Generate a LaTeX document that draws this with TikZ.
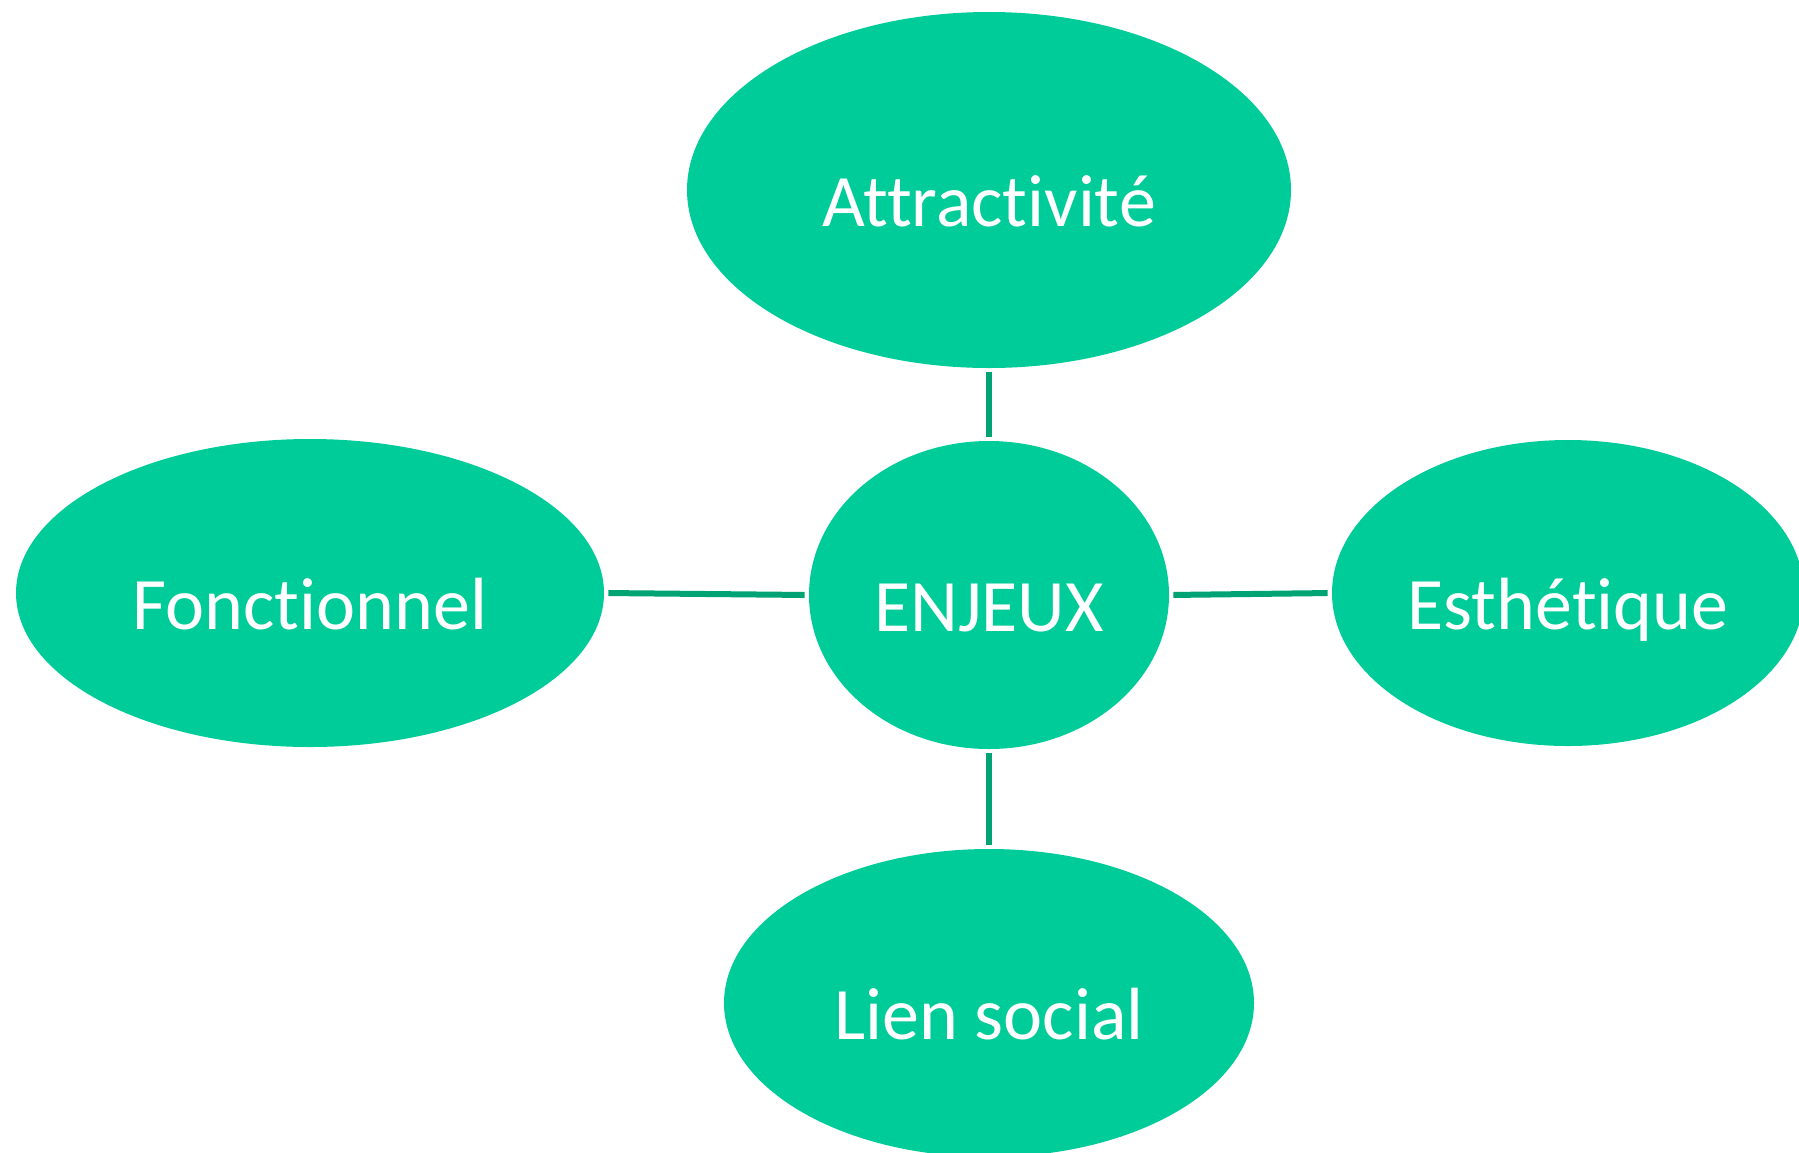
\documentclass[tikz,border=0pt]{standalone}
\usepackage{fontspec}
\setmainfont{Carlito}[Ligatures=NoCommon]
\usetikzlibrary{shapes.geometric}
\definecolor{fillgreen}{HTML}{00CC99}
\definecolor{linegreen}{HTML}{00A374}
\tikzset{
  bubble/.style={ellipse, fill=fillgreen, draw=none, inner sep=0pt,
    text=white, font=\fontsize{37}{41}\selectfont, text height=36pt, text depth=0pt},
  link/.style={draw=linegreen, line width=3pt, shorten <=2pt, shorten >=2pt}
}
\begin{document}
\begin{tikzpicture}[x=0.5pt,y=-0.5pt]
\useasboundingbox (0,0) rectangle (1799,1152);
\begin{scope}
\clip (0,0) rectangle (1799,1152);
\node[bubble, minimum width=302pt, minimum height=178pt] (att) at (989,190) {Attractivité};
\node[bubble, minimum width=294pt, minimum height=154pt] (fon) at (310,593) {Fonctionnel};
\node[bubble, minimum width=180pt, minimum height=154pt] (enj) at (989,595) {ENJEUX};
\node[bubble, minimum width=236pt, minimum height=153pt] (est) at (1568,593) {Esthétique};
\node[bubble, minimum width=265pt, minimum height=154pt] (lien) at (989,1003) {Lien social};
\end{scope}
\draw[link] (att.south) -- (enj.north);
\draw[link] (fon.east) -- (enj.west);
\draw[link] (enj.east) -- (est.west);
\draw[link] (enj.south) -- (lien.north);
\end{tikzpicture}
\end{document}
